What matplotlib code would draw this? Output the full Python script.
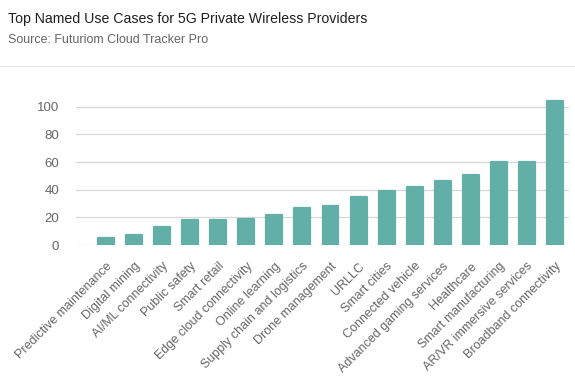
import matplotlib.pyplot as plt

plt.rcParams['font.family'] = ['Liberation Sans', 'DejaVu Sans']

# Data
use_cases = ['Predictive maintenance', 'Digital mining', 'AI/ML connectivity', 'Public safety',
             'Smart retail', 'Edge cloud connectivity', 'Online learning',
             'Supply chain and logistics', 'Drone management', 'URLLC', 'Smart cities',
             'Connected vehicle', 'Advanced gaming services', 'Healthcare',
             'Smart manufacturing', 'AR/VR immersive services', 'Broadband connectivity']
counts = [5, 7, 13, 18, 18, 19, 22, 27, 28, 35, 39, 42, 46, 51, 60, 60, 104]
y_ticks = [0, 20, 40, 60, 80, 100]

W, H = 575, 385
fig = plt.figure(figsize=(W / 100, H / 100), dpi=100)

# Header
fig.text(8 / W, 1 - 19 / H, 'Top Named Use Cases for 5G Private Wireless Providers',
         fontsize=10.2, color='#1f1f1f', va='center', ha='left', fontweight='medium')
fig.text(8 / W, 1 - 40 / H, 'Source: Futuriom Cloud Tracker Pro',
         fontsize=9, color='#666666', va='center', ha='left')
fig.add_artist(plt.Line2D([0, 1], [1 - 66 / H, 1 - 66 / H], color='#e8e8e8', lw=0.8))

# Axes placed in pixel coords
left, right, bottom, top = 76, 569, 245, 93
ax = fig.add_axes([left / W, 1 - bottom / H, (right - left) / W, (bottom - top) / H])

x = list(range(len(counts)))
# thin same-colour edge with round joins gives the soft bar corners
ax.bar(x, counts, width=0.57, color='#62afa7', edgecolor='#62afa7', lw=1.6,
       joinstyle='round', zorder=3)
ax.set_xlim(-1.07, len(counts) - 0.5)
ax.set_ylim(0, 110)
ax.set_yticks(y_ticks)
ax.grid(axis='y', color='#d8d8d8', lw=0.9, zorder=0)
for s in ax.spines.values():
    s.set_visible(False)
ax.tick_params(length=0, labelsize=9.5, labelcolor='#666666')
ax.tick_params(axis='y', pad=12)
ax.set_xticks(x)
ax.set_xticklabels(use_cases, rotation=45, ha='right', rotation_mode='anchor',
                   fontsize=9, color='#666666')
ax.tick_params(axis='x', pad=11)

fig.savefig('out.png', dpi=100)
